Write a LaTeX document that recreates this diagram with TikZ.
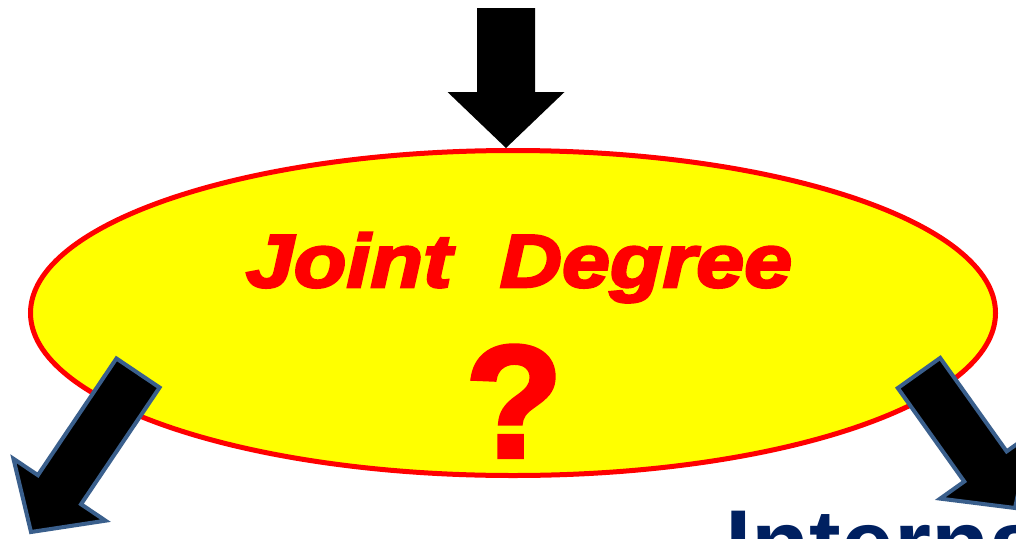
\documentclass[tikz,border=0pt]{standalone}
\usepackage{fontspec}
\setmainfont{Liberation Sans}
\newfontfamily\blackit{Liberation Sans}[UprightFont={* Bold Italic},FakeBold=3.5,FakeStretch=1.15]
\newfontfamily\blackup{Liberation Sans}[UprightFont={* Bold},FakeBold=2.5]
\newfontfamily\boldup{Liberation Sans}[UprightFont={* Bold}]
\usetikzlibrary{calc,shapes.geometric}
\definecolor{jdYellow}{HTML}{FFFF00}
\definecolor{jdRed}{HTML}{FF0000}
\definecolor{jdNavy}{HTML}{002060}
\definecolor{jdEdge}{HTML}{3A5F8C}
\newlength\shaftw
\newlength\headw
\setlength\shaftw{26pt}
\setlength\headw{56pt}
% block arrow: tail, tip, name, head length, style
\newcommand\blockarrow[5]{%
  \coordinate (#3b) at ($(#2)!#4!(#1)$);
  \path[#5] ($(#1)!\shaftw!90:(#2)$) -- ($(#3b)!\shaftw!90:(#2)$) -- ($(#3b)!\headw!90:(#2)$)
    -- (#2) -- ($(#3b)!\headw!-90:(#2)$) -- ($(#3b)!\shaftw!-90:(#2)$) -- ($(#1)!\shaftw!-90:(#2)$) -- cycle;}
\tikzset{
  bubble/.style={ellipse, draw=jdRed, fill=jdYellow, line width=5pt, inner sep=0pt,
    minimum width=965pt, minimum height=325pt},
  plainarrow/.style={fill=black},
  fatarrow/.style={fill=black, draw=jdEdge, line width=4pt, line join=miter},
  title/.style={text=jdRed, font=\blackit\fontsize{75}{80}\selectfont, anchor=base, inner sep=0pt},
  qmark/.style={text=jdRed, font=\blackup\fontsize{160}{170}\selectfont, anchor=base, inner sep=0pt},
  cut/.style={text=jdNavy, font=\boldup\fontsize{95}{100}\selectfont, anchor=base west, inner sep=0pt},
}
\begin{document}
\begin{tikzpicture}[x=1pt, y=-1pt]
\useasboundingbox (0,0) rectangle (1016,538);
\clip (0,0) rectangle (1016,538);
\node[bubble] (deg) at (513,313) {};
\node[title] (jd) at (519,287) {Joint\ \ Degree};
\node[qmark] (q) at (514,457) {?};
\node[cut] (intl) at (725,576) {International};
% arrows
\coordinate (topTail) at (506,8);
\coordinate (topTip) at (506,148);
\setlength\shaftw{29pt}\setlength\headw{58.5pt}
\blockarrow{topTail}{topTip}{top}{56pt}{plainarrow}
\setlength\shaftw{26pt}\setlength\headw{55.5pt}
\coordinate (leftTail) at (138,373);
\coordinate (leftTip) at (31,532);
\blockarrow{leftTail}{leftTip}{left}{51pt}{fatarrow}
\coordinate (rightTail) at (919,373);
\coordinate (rightTip) at (1015,508);
\blockarrow{rightTail}{rightTip}{right}{51pt}{fatarrow}
\end{tikzpicture}
\end{document}
